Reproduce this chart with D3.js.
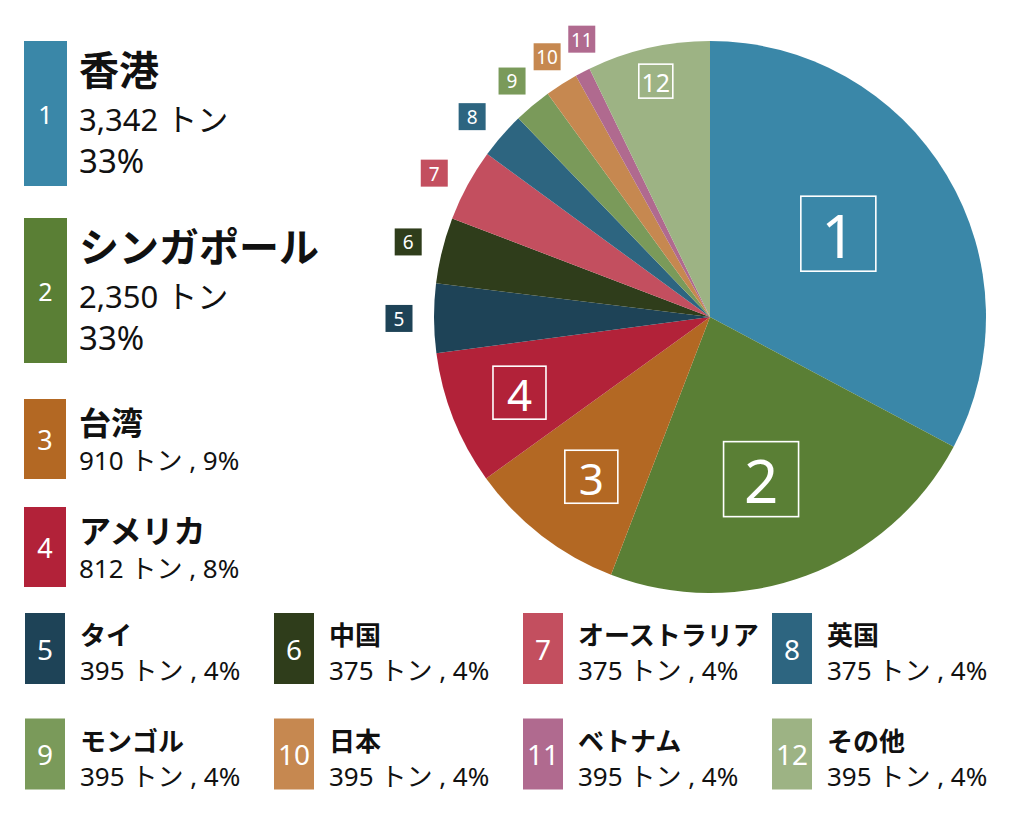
<!DOCTYPE html>
<html>
<head>
<meta charset="utf-8">
<script src="https://cdn.jsdelivr.net/npm/d3@7"></script>
<style>
  body { margin: 0; background: #fff; }
  svg text { font-family: "Noto Sans", "Noto Sans CJK JP", sans-serif; }
</style>
</head>
<body>
<div id="chart"></div>
<script>
// names, figures printed in the legend, and the slice sizes as drawn
const names = ["香港", "シンガポール", "台湾", "アメリカ", "タイ", "中国",
  "オーストラリア", "英国", "モンゴル", "日本", "ベトナム", "その他"];
const tonLabels = [3342, 2350, 910, 812, 395, 375, 375, 375, 395, 395, 395, 395];
const pctLabels = [33, 33, 9, 8, 4, 4, 4, 4, 4, 4, 4, 4];
// slice sizes (tonnes)
const pieValues = [3342, 2350, 940, 800, 412, 394, 432, 279, 225, 197, 90, 733];
const colors = ["#3a87a8", "#5a7f35", "#b36823", "#b22239", "#1e4357", "#2f3d1b",
  "#c34f5f", "#2d6580", "#7a9a5a", "#c68850", "#b06a8f", "#9db384"];

const width = 1024, height = 819;
const cx = 710, cy = 317, radius = 276;

const svg = d3.select("#chart").append("svg")
  .attr("width", width)
  .attr("height", height)
  .attr("viewBox", [0, 0, width, height]);

const data = names.map((n, i) => ({
  id: i + 1, name: n, ton: tonLabels[i], pct: pctLabels[i], value: pieValues[i], color: colors[i]
}));

// pie
const pie = d3.pie().sort(null).value(d => d.value);
const arc = d3.arc().innerRadius(0).outerRadius(radius);
const arcs = pie(data);

const g = svg.append("g").attr("transform", `translate(${cx},${cy})`);

g.selectAll("path")
  .data(arcs)
  .join("path")
  .attr("d", arc)
  .attr("fill", d => d.data.color);

// label placement: [radius, angle shift in degrees, box size, font size, outside?]
const labelLayout = [
  [153, -2, 75, 60, false], [170, 3, 75, 60, false], [199, -1, 53, 44, false], [205, 0, 53, 44, false],
  [311, 0, 27, 19, true], [311, 0, 27, 19, true], [311, -1, 27, 19, true], [311, -1, 27, 19, true],
  [308, 0, 27, 19, true], [307, 0.5, 27, 19, true], [306, 2.7, 27, 19, true], [242, 0, 34, 25, false]
];

const lab = g.selectAll(".slabel")
  .data(arcs)
  .join("g")
  .attr("class", "slabel")
  .attr("transform", (d, i) => {
    const [r, shift] = labelLayout[i];
    const a = (d.startAngle + d.endAngle) / 2 + shift * Math.PI / 180;
    return `translate(${r * Math.sin(a)},${-r * Math.cos(a)})`;
  });

lab.append("rect")
  .attr("x", (d, i) => -labelLayout[i][2] / 2)
  .attr("y", (d, i) => -labelLayout[i][2] / 2)
  .attr("width", (d, i) => labelLayout[i][2])
  .attr("height", (d, i) => labelLayout[i][2])
  .attr("fill", (d, i) => labelLayout[i][4] ? d.data.color : "none")
  .attr("stroke", (d, i) => labelLayout[i][4] ? "none" : "#fff")
  .attr("stroke-width", 1.6);

lab.append("text")
  .text(d => d.data.id)
  .attr("text-anchor", "middle")
  .attr("dominant-baseline", "central")
  .attr("dy", "0.02em")
  .attr("fill", "#fff")
  .attr("font-size", (d, i) => labelLayout[i][3]);

// legend
const legend = svg.append("g");

function legendItem(d, x, y, w, h, nameSize, subSize, numSize, nameDy, lines) {
  const item = legend.append("g");
  item.append("rect")
    .attr("x", x).attr("y", y).attr("width", w).attr("height", h)
    .attr("fill", d.color);
  item.append("text")
    .attr("x", x + w / 2).attr("y", y + h / 2)
    .attr("text-anchor", "middle")
    .attr("dominant-baseline", "central")
    .attr("fill", "#fff")
    .attr("font-size", numSize)
    .text(d.id);
  item.append("text")
    .attr("x", x + 55).attr("y", y + nameDy)
    .attr("font-size", nameSize)
    .attr("font-weight", "bold")
    .attr("fill", "#111")
    .text(d.name);
  lines.forEach(([txt, dy, size]) => {
    item.append("text")
      .attr("x", x + 55).attr("y", y + dy)
      .attr("font-size", size || subSize)
      .attr("fill", "#111")
      .text(txt);
  });
}

const fmt = d3.format(",");
const bigTops = [41, 218];
data.slice(0, 2).forEach((d, i) => {
  legendItem(d, 24, bigTops[i], 43, 145, 40, 31, 25, 44,
    [[`${fmt(d.ton)} トン`, 90], [`${d.pct}%`, 132, 33]]);
});
const midTops = [399, 507];
data.slice(2, 4).forEach((d, i) => {
  legendItem(d, 24, midTops[i], 42, 80, 32, 26, 27, 36,
    [[`${fmt(d.ton)} トン , ${d.pct}%`, 71]]);
});
data.slice(4).forEach((d, i) => {
  const col = i % 4, row = Math.floor(i / 4);
  legendItem(d, 25 + col * 249, 613 + row * 105.5, 40, 71, 26, 26, 28, 32,
    [[`${fmt(d.ton)} トン , ${d.pct}%`, 67]]);
});
</script>
</body>
</html>
